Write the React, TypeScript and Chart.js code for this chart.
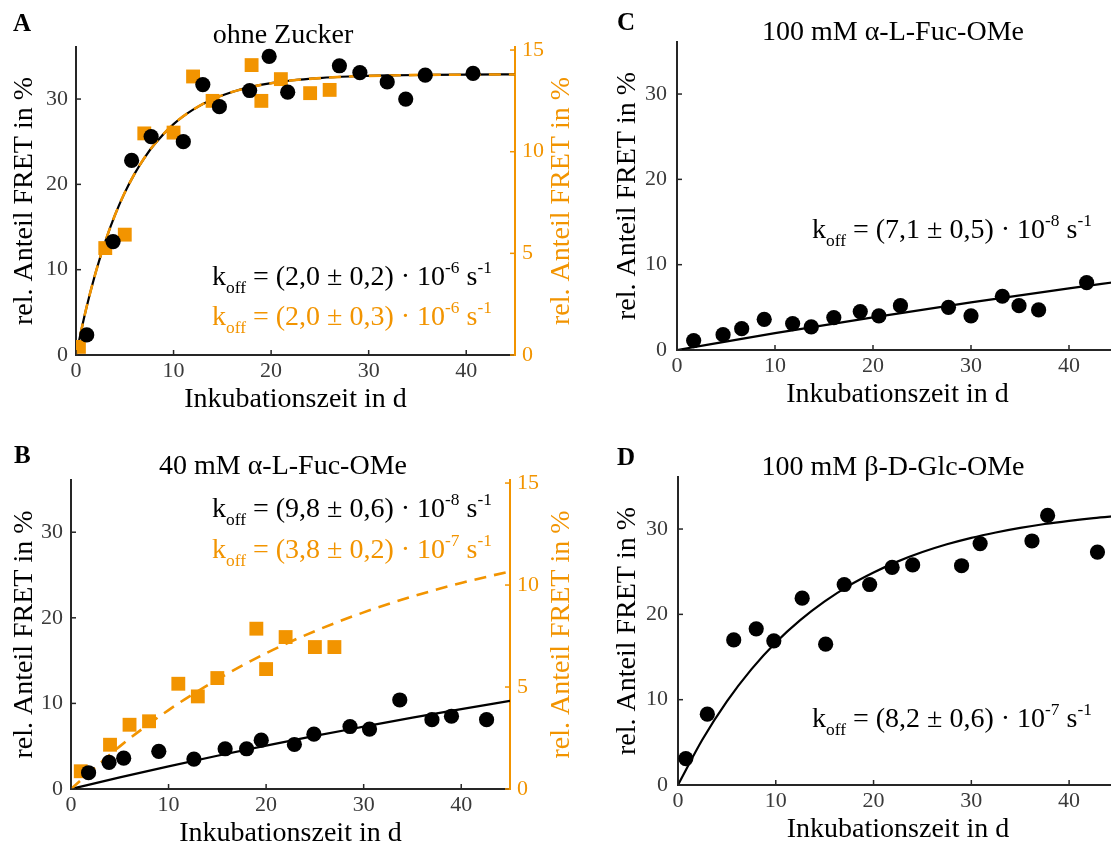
import React, { useEffect, useRef } from "react";
import { Chart, registerables } from "chart.js";

Chart.register(...registerables);

const FONT = "'Liberation Serif', 'Times New Roman', serif";
const ORANGE = "#F29400";
const AXIS = "#262626";
const TICK = "#3a3a3a";

// ---------------- data ----------------
// Panel A – ohne Zucker
const aDays = [1.1, 3.8, 5.7, 7.7, 11.0, 13.0, 14.7, 17.8, 19.8, 21.7, 27.0, 29.1, 31.9, 33.8, 35.8, 40.7];
const aFret = [2.35, 13.3, 22.8, 25.6, 25.0, 31.7, 29.1, 31.0, 35.0, 30.8, 33.9, 33.1, 32.0, 30.0, 32.8, 33.0];
const aDaysSq = [0.3, 3, 5, 7, 10, 12, 14, 18, 19, 21, 24, 26];
const aFretSq = [0.4, 5.26, 5.92, 10.9, 10.94, 13.7, 12.5, 14.26, 12.5, 13.57, 12.88, 13.04];
const aFitDays = [0, 1, 2, 3, 4, 5, 6, 7, 8, 10, 12, 14, 16, 18, 20, 22, 25, 28, 32, 36, 40, 45];
const aFit = [0, 5.22, 9.61, 13.3, 16.42, 19.03, 21.23, 23.08, 24.64, 27.06, 28.76, 29.97, 30.83, 31.43, 31.86, 32.17, 32.46, 32.64, 32.77, 32.83, 32.87, 32.89];
const aFitSq = [0, 2.19, 4.03, 5.58, 6.89, 7.99, 8.91, 9.69, 10.34, 11.36, 12.07, 12.58, 12.94, 13.19, 13.37, 13.5, 13.62, 13.7, 13.75, 13.78, 13.79, 13.8];

// Panel B – 40 mM α-L-Fuc-OMe
const bDays = [1.8, 3.9, 5.4, 9.0, 12.6, 15.8, 18.0, 19.5, 22.9, 24.9, 28.6, 30.6, 33.7, 37.0, 39.0, 42.6];
const bFret = [1.9, 3.1, 3.6, 4.4, 3.5, 4.7, 4.7, 5.7, 5.2, 6.4, 7.3, 7.0, 10.4, 8.1, 8.5, 8.1];
const bDaysSq = [1, 4, 6, 8, 11, 13, 15, 19, 20, 22, 25, 27];
const bFretSq = [0.87, 2.17, 3.15, 3.32, 5.16, 4.54, 5.44, 7.86, 5.88, 7.45, 6.96, 6.96];
const bFitDays = [0, 5, 10, 15, 20, 25, 30, 35, 40, 45];
const bFit = [0, 1.35, 2.64, 3.88, 5.06, 6.2, 7.28, 8.34, 9.34, 10.3];
const bFitSq = [0, 2.09, 3.87, 5.37, 6.66, 7.74, 8.66, 9.44, 10.1, 10.67];

// Panel C – 100 mM α-L-Fuc-OMe
const cDays = [1.7, 4.7, 6.6, 8.9, 11.8, 13.7, 16.0, 18.7, 20.6, 22.8, 27.7, 30.0, 33.2, 34.9, 36.9, 41.8];
const cFret = [1.1, 1.8, 2.5, 3.6, 3.1, 2.7, 3.8, 4.5, 4.0, 5.2, 5.0, 4.0, 6.3, 5.2, 4.7, 7.9];
const cFitDays = [0, 10, 20, 30, 40, 45];
const cFit = [0, 1.97, 3.83, 5.58, 7.22, 8.0];

// Panel D – 100 mM β-D-Glc-OMe
const dDays = [0.8, 3.0, 5.7, 8.0, 9.8, 12.7, 15.1, 17.0, 19.6, 21.9, 24.0, 29.0, 30.9, 36.2, 37.8, 42.9];
const dFret = [3.1, 8.3, 17.0, 18.3, 16.9, 21.9, 16.5, 23.5, 23.5, 25.5, 25.8, 25.7, 28.3, 28.6, 31.6, 27.3];
const dFitDays = [0, 2.5, 5, 7.5, 10, 12.5, 15, 17.5, 20, 22.5, 25, 27.5, 30, 32.5, 35, 37.5, 40, 42.5, 45];
const dFit = [0, 5.33, 9.8, 13.55, 16.7, 19.32, 21.52, 23.37, 24.9, 26.21, 27.3, 28.21, 28.97, 29.6, 30.14, 30.59, 30.96, 31.28, 31.54];

// axis ranges and labels
const X_MAX = 45;
const Y_MAX = 36.1;
const Y1_MAX = 15.15;
const X_TITLE = "Inkubationszeit in d";
const Y_TITLE = "rel. Anteil FRET in %";

// ---------------- helpers ----------------
type Seg = { t: string; k?: "sub" | "sup" };
type TextItem = { segs: Seg[]; x: number; y: number; size: number; color: string; bold?: boolean; center?: boolean };

const koff = (val: string, exp: string): Seg[] => [
  { t: "k" },
  { t: "off", k: "sub" },
  { t: " = (" + val + ") · 10" },
  { t: exp, k: "sup" },
  { t: " s" },
  { t: "-1", k: "sup" },
];

const pts = (xs: number[], ys: number[]) => xs.map((x, i) => ({ x, y: ys[i] }));

type PanelCfg = {
  box: [number, number, number, number];
  plot: { l: number; r: number; t: number; b: number };
  yTitleX: number;
  yTickPad: number;
  rightTitleX?: number;
  datasets: any[];
  texts: TextItem[];
};

function drawSegs(ctx: CanvasRenderingContext2D, it: TextItem, ox: number, oy: number) {
  const size = it.size;
  const fontOf = (fs: number) => `${it.bold ? "bold " : ""}${fs}px ${FONT}`;
  let total = 0;
  for (const s of it.segs) {
    ctx.font = fontOf(s.k ? size * 0.62 : size);
    total += ctx.measureText(s.t).width;
  }
  let cx = it.x - ox - (it.center ? total / 2 : 0);
  const by = it.y - oy;
  ctx.fillStyle = it.color;
  ctx.textAlign = "left";
  ctx.textBaseline = "alphabetic";
  for (const s of it.segs) {
    const fs = s.k ? size * 0.62 : size;
    ctx.font = fontOf(fs);
    const dy = s.k === "sub" ? size * 0.3 : s.k === "sup" ? -size * 0.42 : 0;
    ctx.fillText(s.t, cx, by + dy);
    cx += ctx.measureText(s.t).width;
  }
}

const TICK_FONT = 22;
const TITLE_FONT = 28;
const XH = 65;
const Y1W = 70;

function Panel({ cfg }: { cfg: PanelCfg }) {
  const ref = useRef<HTMLCanvasElement | null>(null);
  useEffect(() => {
    const canvas = ref.current;
    if (!canvas) return;
    const [cl, ct, cw, ch] = cfg.box;
    const { l, r, t, b } = cfg.plot;
    const hasRight = cfg.rightTitleX !== undefined;
    const YW = l - cl;
    const padR = hasRight ? cl + cw - r - Y1W : cl + cw - r;
    const padB = ct + ch - b - XH;
    const padT = t - ct;
    const titleLH = TITLE_FONT * 1.2;
    const xTitleCenter = b + 45;
    const xTitlePadB = b + XH - xTitleCenter - titleLH / 2;
    const yTitlePadT = cfg.yTitleX - cl - titleLH / 2;

    const decor = {
      id: "decor",
      afterDatasetsDraw(chart: any) {
        const ctx: CanvasRenderingContext2D = chart.ctx;
        const ca = chart.chartArea;
        const xs = chart.scales.x;
        const ys = chart.scales.y;
        const y1 = chart.scales.y1;
        ctx.save();
        ctx.lineWidth = 1.5;
        ctx.strokeStyle = AXIS;
        xs.ticks.forEach((tk: any) => {
          const p = xs.getPixelForValue(tk.value);
          ctx.beginPath();
          ctx.moveTo(p, ca.bottom);
          ctx.lineTo(p, ca.bottom - 5);
          ctx.stroke();
        });
        ys.ticks.forEach((tk: any) => {
          const p = ys.getPixelForValue(tk.value);
          ctx.beginPath();
          ctx.moveTo(ca.left, p);
          ctx.lineTo(ca.left + 5, p);
          ctx.stroke();
        });
        if (y1) {
          ctx.strokeStyle = ORANGE;
          y1.ticks.forEach((tk: any) => {
            const p = y1.getPixelForValue(tk.value);
            ctx.beginPath();
            ctx.moveTo(ca.right, p);
            ctx.lineTo(ca.right - 5, p);
            ctx.stroke();
          });
          // right axis title, reading bottom-to-top
          ctx.save();
          ctx.translate((cfg.rightTitleX as number) - cl, (ca.top + ca.bottom) / 2);
          ctx.rotate(-Math.PI / 2);
          ctx.font = `${TITLE_FONT}px ${FONT}`;
          ctx.fillStyle = ORANGE;
          ctx.textAlign = "center";
          ctx.textBaseline = "middle";
          ctx.fillText(Y_TITLE, 0, 0);
          ctx.restore();
        }
        cfg.texts.forEach((it) => drawSegs(ctx, it, cl, ct));
        ctx.restore();
      },
    };

    const scales: any = {
      x: {
        type: "linear",
        position: "bottom",
        min: 0,
        max: X_MAX,
        afterFit: (s: any) => {
          s.height = XH;
        },
        grid: { display: false, drawTicks: false },
        border: { display: true, color: AXIS, width: 2 },
        ticks: {
          stepSize: 10,
          includeBounds: false,
          maxRotation: 0,
          color: TICK,
          padding: 3,
          font: { family: FONT, size: TICK_FONT },
        },
        title: {
          display: true,
          text: X_TITLE,
          color: "#000",
          font: { family: FONT, size: TITLE_FONT },
          padding: { top: 0, bottom: xTitlePadB },
        },
      },
      y: {
        type: "linear",
        position: "left",
        min: 0,
        max: Y_MAX,
        afterFit: (s: any) => {
          s.width = YW;
        },
        grid: { display: false, drawTicks: false },
        border: { display: true, color: AXIS, width: 2 },
        ticks: {
          stepSize: 10,
          includeBounds: false,
          color: TICK,
          padding: cfg.yTickPad,
          font: { family: FONT, size: TICK_FONT },
        },
        title: {
          display: true,
          text: Y_TITLE,
          color: "#000",
          font: { family: FONT, size: TITLE_FONT },
          padding: { top: yTitlePadT, bottom: 0 },
        },
      },
    };
    if (hasRight) {
      scales.y1 = {
        type: "linear",
        position: "right",
        min: 0,
        max: Y1_MAX,
        afterFit: (s: any) => {
          s.width = Y1W;
        },
        grid: { display: false, drawTicks: false },
        border: { display: true, color: ORANGE, width: 2 },
        ticks: {
          stepSize: 5,
          includeBounds: false,
          color: ORANGE,
          padding: 7,
          font: { family: FONT, size: TICK_FONT },
        },
        title: { display: false },
      };
    }

    const chart = new Chart(canvas, {
      type: "scatter",
      data: { datasets: cfg.datasets },
      options: {
        animation: false,
        responsive: false,
        maintainAspectRatio: false,
        layout: { padding: { left: 0, right: padR, top: padT, bottom: padB } },
        plugins: { legend: { display: false }, tooltip: { enabled: false }, title: { display: false } },
        scales,
      },
      plugins: [decor],
    } as any);
    return () => chart.destroy();
  }, [cfg]);
  const [cl, ct, cw, ch] = cfg.box;
  return (
    <canvas
      ref={ref}
      width={cw}
      height={ch}
      style={{ position: "absolute", left: cl, top: ct, width: cw, height: ch }}
    />
  );
}

const circles = (xs: number[], ys: number[], axis = "y") => ({
  data: pts(xs, ys),
  yAxisID: axis,
  pointStyle: "circle",
  pointRadius: 7.6,
  backgroundColor: "#000",
  borderColor: "#000",
  borderWidth: 0,
  showLine: false,
});
const squares = (xs: number[], ys: number[], axis = "y1") => ({
  data: pts(xs, ys),
  yAxisID: axis,
  pointStyle: "rect",
  pointRadius: 9.8,
  backgroundColor: ORANGE,
  borderColor: ORANGE,
  borderWidth: 0,
  showLine: false,
});
const fitLine = (xs: number[], ys: number[], color: string, dashed: boolean, axis = "y") => ({
  data: pts(xs, ys),
  yAxisID: axis,
  showLine: true,
  pointRadius: 0,
  borderColor: color,
  borderWidth: dashed ? 2.6 : 2.2,
  borderDash: dashed ? [12, 8] : [],
  cubicInterpolationMode: "monotone",
  fill: false,
});

const KSIZE = 28;

const PANELS: PanelCfg[] = [
  {
    box: [0, 0, 590, 430],
    plot: { l: 76, r: 515, t: 47, b: 355 },
    yTitleX: 25,
    yTickPad: 8,
    rightTitleX: 562,
    datasets: [
      circles(aDays, aFret),
      squares(aDaysSq, aFretSq),
      fitLine(aFitDays, aFitSq, ORANGE, true, "y1"),
      fitLine(aFitDays, aFit, "#000", false),
    ],
    texts: [
      { segs: [{ t: "A" }], x: 13, y: 31, size: 25, color: "#000", bold: true },
      { segs: [{ t: "ohne Zucker" }], x: 283, y: 43, size: TITLE_FONT, color: "#000", center: true },
      { segs: koff("2,0 ± 0,2", "-6"), x: 212, y: 285, size: KSIZE, color: "#000" },
      { segs: koff("2,0 ± 0,3", "-6"), x: 212, y: 325, size: KSIZE, color: ORANGE },
    ],
  },
  {
    box: [0, 430, 590, 430],
    plot: { l: 71, r: 510, t: 480, b: 789 },
    yTitleX: 25,
    yTickPad: 8,
    rightTitleX: 562,
    datasets: [
      circles(bDays, bFret),
      squares(bDaysSq, bFretSq),
      fitLine(bFitDays, bFitSq, ORANGE, true, "y1"),
      fitLine(bFitDays, bFit, "#000", false),
    ],
    texts: [
      { segs: [{ t: "B" }], x: 14, y: 463, size: 25, color: "#000", bold: true },
      { segs: [{ t: "40 mM α-L-Fuc-OMe" }], x: 283, y: 474, size: TITLE_FONT, color: "#000", center: true },
      { segs: koff("9,8 ± 0,6", "-8"), x: 212, y: 517, size: KSIZE, color: "#000" },
      { segs: koff("3,8 ± 0,2", "-7"), x: 212, y: 558, size: KSIZE, color: ORANGE },
    ],
  },
  {
    box: [590, 0, 560, 430],
    plot: { l: 677, r: 1118, t: 42, b: 350 },
    yTitleX: 628,
    yTickPad: 10,
    datasets: [circles(cDays, cFret), fitLine(cFitDays, cFit, "#000", false)],
    texts: [
      { segs: [{ t: "C" }], x: 617, y: 30, size: 25, color: "#000", bold: true },
      { segs: [{ t: "100 mM α-L-Fuc-OMe" }], x: 893, y: 40, size: TITLE_FONT, color: "#000", center: true },
      { segs: koff("7,1 ± 0,5", "-8"), x: 812, y: 238, size: KSIZE, color: "#000" },
    ],
  },
  {
    box: [590, 430, 560, 430],
    plot: { l: 678, r: 1118, t: 477, b: 785 },
    yTitleX: 628,
    yTickPad: 10,
    datasets: [circles(dDays, dFret), fitLine(dFitDays, dFit, "#000", false)],
    texts: [
      { segs: [{ t: "D" }], x: 617, y: 465, size: 25, color: "#000", bold: true },
      { segs: [{ t: "100 mM β-D-Glc-OMe" }], x: 893, y: 475, size: TITLE_FONT, color: "#000", center: true },
      { segs: koff("8,2 ± 0,6", "-7"), x: 812, y: 727, size: KSIZE, color: "#000" },
    ],
  },
];

export default function App() {
  return (
    <div
      style={{
        position: "fixed",
        left: 0,
        top: 0,
        width: 1111,
        height: 848,
        overflow: "hidden",
        background: "#fff",
      }}
    >
      {PANELS.map((p, i) => (
        <Panel key={i} cfg={p} />
      ))}
    </div>
  );
}
